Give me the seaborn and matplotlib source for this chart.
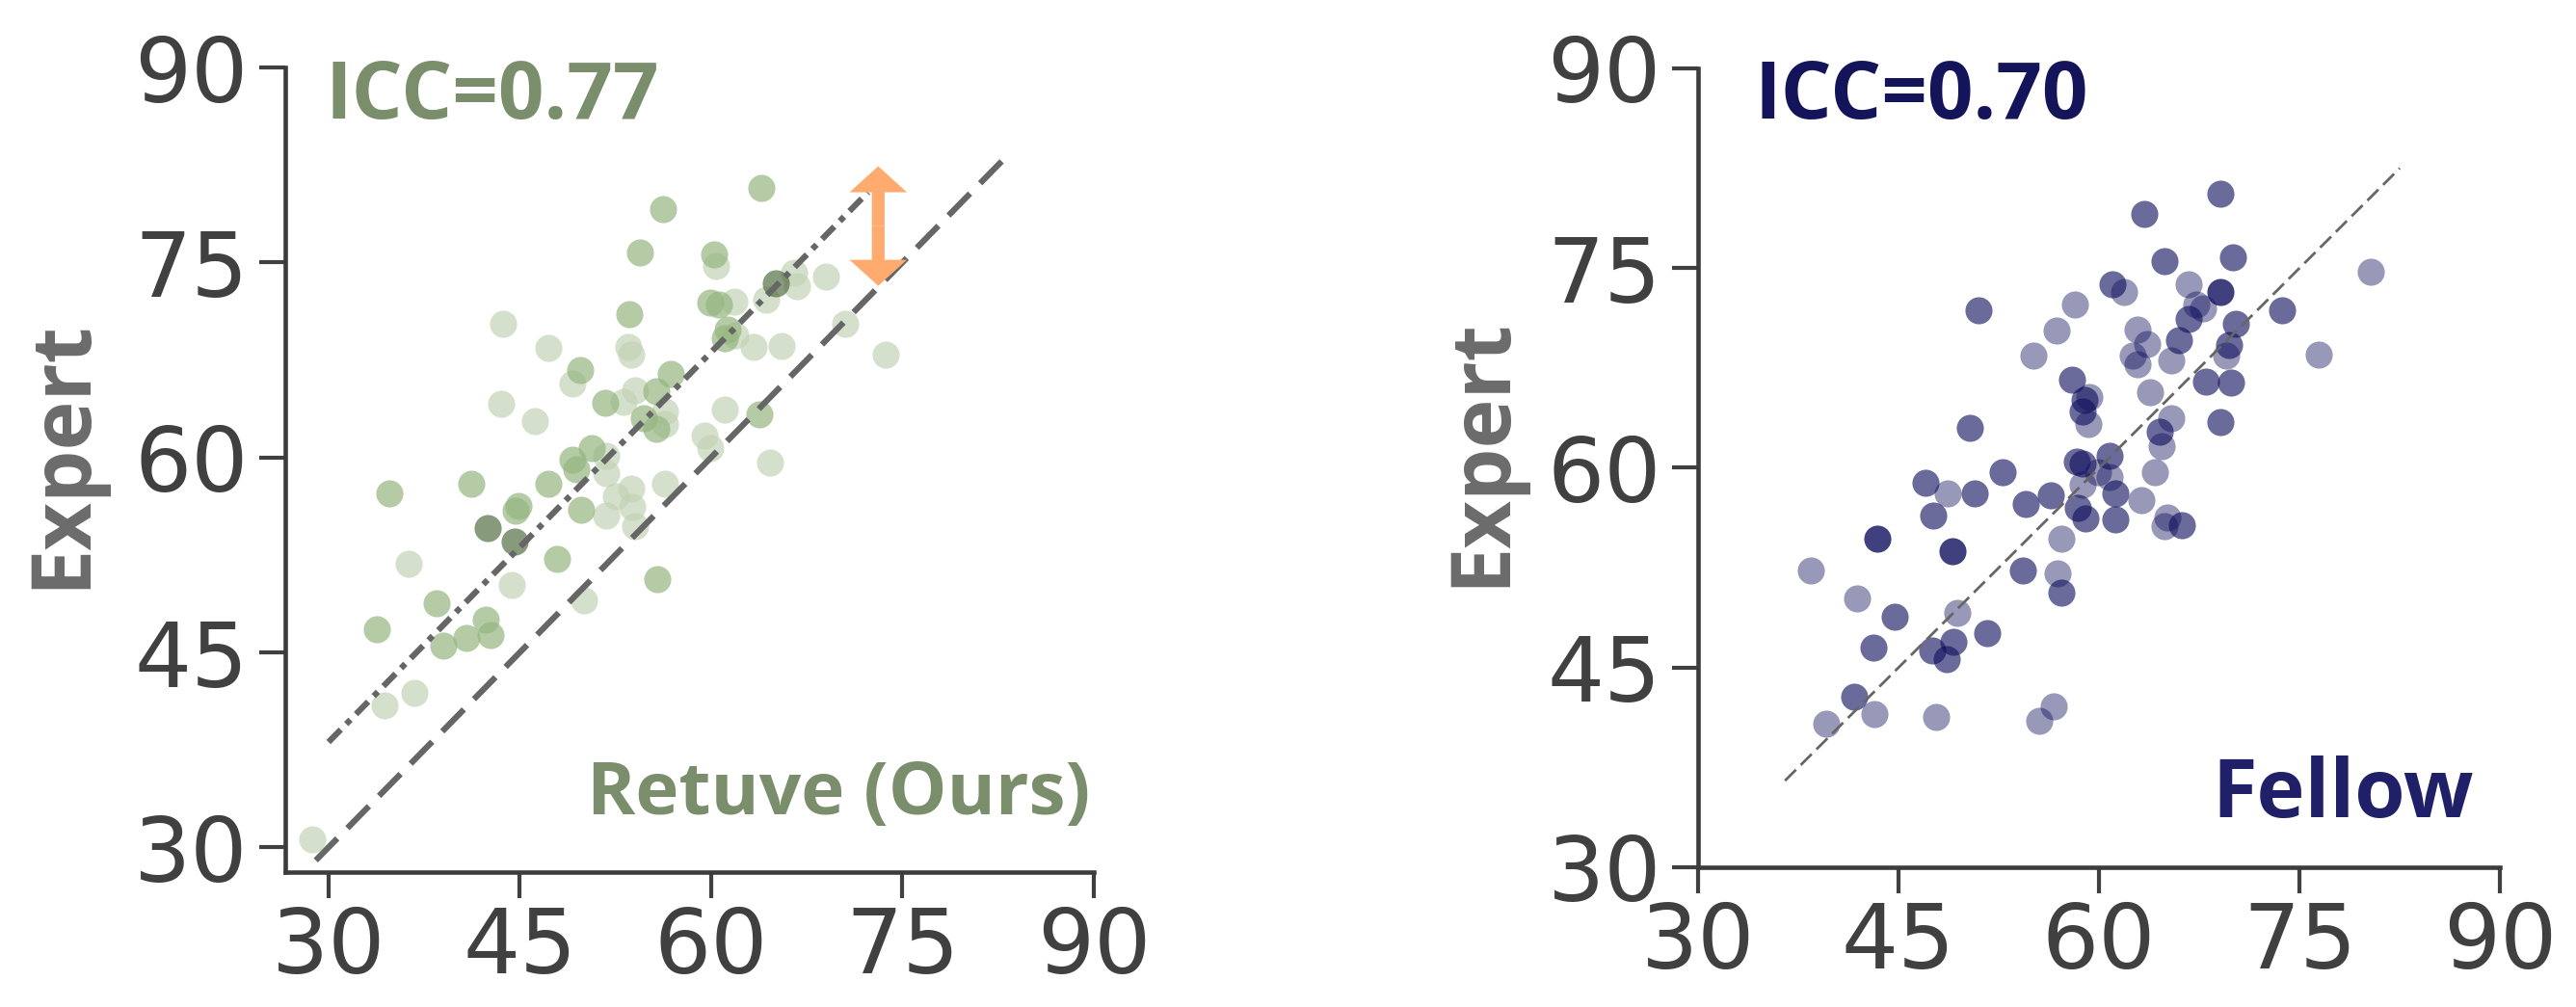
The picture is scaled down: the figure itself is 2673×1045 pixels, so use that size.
import numpy as np
import pandas as pd
import matplotlib
matplotlib.use("Agg")
import matplotlib.pyplot as plt
import seaborn as sns

# ---------------- data ----------------
retuve_x = [63.9, 56.2, 54.4, 60.2, 60.4, 69.0, 65.1, 66.5, 66.7, 64.3,
            59.9, 60.6, 61.8, 53.6, 43.7, 61.3, 61.1, 61.9, 63.3, 65.5,
            70.5, 73.7, 47.2, 53.5, 53.7, 49.7, 49.1, 56.8, 51.7, 54.0,
            53.1, 55.7, 56.4, 56.4, 54.7, 55.7, 43.5, 46.2, 61.1, 63.8,
            59.5, 59.9, 64.6, 50.6, 51.8, 49.1, 49.4, 51.8, 47.2, 41.2,
            34.8, 44.9, 44.7, 49.8, 52.5, 53.7, 53.8, 51.8, 56.4, 54.0,
            42.5, 44.6, 36.3, 47.9, 55.8, 44.4, 50.0, 38.5, 42.3, 42.7,
            33.8, 40.8, 39.0, 36.7, 34.4, 28.7]
retuve_y = [80.7, 79.1, 75.8, 75.6, 74.7, 73.9, 73.4, 74.2, 73.2, 72.1,
            71.9, 71.8, 72.0, 71.0, 70.3, 69.8, 69.2, 69.4, 68.5, 68.6,
            70.3, 67.9, 68.4, 68.5, 67.9, 66.7, 65.7, 66.4, 64.2, 65.2,
            64.3, 65.1, 63.5, 62.6, 63.0, 62.2, 64.1, 62.8, 63.7, 63.3,
            61.7, 60.7, 59.6, 60.7, 60.1, 59.8, 59.1, 58.8, 58.0, 58.0,
            57.2, 56.3, 55.9, 56.0, 57.0, 57.6, 56.2, 55.5, 58.0, 54.7,
            54.6, 53.5, 51.8, 52.2, 50.6, 50.2, 49.0, 48.8, 47.5, 46.3,
            46.8, 46.1, 45.5, 41.9, 40.9, 30.6]
retuve_shade = ["M", "M", "M", "M", "L", "L", "D", "L", "L", "L",
                "M", "M", "L", "M", "L", "M", "M", "L", "L", "L",
                "L", "L", "L", "L", "L", "M", "L", "M", "M", "L",
                "L", "M", "L", "L", "M", "M", "L", "L", "L", "M",
                "L", "L", "L", "M", "L", "M", "M", "L", "M", "M",
                "M", "M", "M", "M", "L", "L", "L", "L", "L", "L",
                "D", "D", "L", "M", "M", "L", "L", "M", "M", "M",
                "M", "M", "M", "L", "L", "L"]

fellow_x = [69.1, 63.4, 64.9, 70.0, 80.3, 61.0, 61.9, 66.7, 69.1, 67.8,
            67.3, 58.2, 51.0, 73.7, 66.7, 70.2, 56.8, 62.9, 63.6, 66.0,
            69.7, 69.5, 55.1, 62.5, 62.9, 65.4, 76.4, 58.0, 68.0, 69.9,
            59.3, 58.9, 58.8, 63.8, 59.2, 50.3, 69.1, 65.4, 64.5, 64.7,
            58.3, 58.8, 60.8, 64.2, 59.9, 60.8, 52.8, 47.0, 48.7, 50.7,
            58.8, 61.2, 54.5, 56.4, 63.2, 58.4, 59.0, 61.2, 65.1, 66.2,
            64.9, 47.6, 57.2, 43.4, 49.0, 54.3, 56.9, 57.2, 38.4, 41.9,
            44.7, 49.4, 43.1, 51.6, 49.1, 47.5, 48.6, 41.7, 43.2, 47.8,
            56.6, 55.5, 39.6]
fellow_y = [80.6, 79.1, 75.5, 75.8, 74.7, 73.8, 73.2, 73.8, 73.2, 72.0,
            72.3, 72.3, 71.8, 71.8, 71.2, 70.8, 70.3, 70.4, 69.3, 69.6,
            69.2, 68.4, 68.4, 68.4, 67.8, 68.1, 68.5, 66.6, 66.5, 66.4,
            65.3, 65.1, 64.2, 65.7, 63.3, 63.0, 63.4, 63.7, 62.7, 61.6,
            60.5, 60.3, 60.9, 59.7, 59.7, 59.3, 59.7, 58.9, 58.1, 58.1,
            58.7, 58.1, 57.3, 57.9, 57.6, 57.0, 56.2, 56.1, 56.3, 55.7,
            55.6, 56.4, 54.7, 54.7, 53.7, 52.3, 52.1, 50.6, 52.3, 50.2,
            48.8, 49.1, 46.5, 47.6, 46.9, 46.3, 45.6, 42.8, 41.5, 41.3,
            42.1, 41.0, 40.8]
fellow_shade = ["M", "M", "M", "M", "L", "M", "L", "L", "D", "L",
                "L", "L", "M", "M", "M", "M", "L", "L", "L", "M",
                "M", "L", "L", "L", "L", "L", "L", "M", "M", "M",
                "L", "M", "M", "L", "L", "M", "M", "L", "M", "L",
                "M", "M", "M", "L", "L", "L", "M", "M", "L", "M",
                "L", "M", "M", "M", "L", "M", "M", "M", "L", "M",
                "L", "M", "L", "D", "D", "M", "L", "M", "L", "L",
                "M", "L", "M", "M", "M", "M", "M", "M", "L", "L",
                "L", "L", "L"]

ticks = [30, 45, 60, 75, 90]
icc_labels = ["ICC=0.77", "ICC=0.70"]
panel_labels = ["Retuve (Ours)", "Fellow"]

identity_left = [29.0, 83.0]      # y = x reference line (left)
bias_left = 8.1                   # offset line y = x + bias
bias_line_x = [30.0, 72.3]
identity_right = [36.5, 82.5]
arrow_x, arrow_y0, arrow_y1 = 73.1, 73.2, 82.4

df_r = pd.DataFrame({"Model": retuve_x, "Expert": retuve_y, "shade": retuve_shade})
df_f = pd.DataFrame({"Model": fellow_x, "Expert": fellow_y, "shade": fellow_shade})

# ---------------- style ----------------
sns.set_style("ticks")
plt.rcParams["font.family"] = ["DejaVu Sans"]
GREEN_TXT = "#7a8e6c"
NAVY_TXT = "#14145a"
NAVY_TXT2 = "#1f2068"
TICK_C = "#404040"
LINE_C = "#666666"

green_colors = {"L": ("#c3d3b5", 0.7), "M": ("#95b680", 0.7), "D": ("#546f45", 0.7)}
navy_colors = {"L": ("#10105e", 0.43), "M": ("#10105e", 0.62), "D": ("#10105e", 0.80)}

fig = plt.figure(figsize=(26.73, 10.45), dpi=100)
ax1 = fig.add_axes([0.1107, 0.1340, 0.3139, 0.7990])
ax2 = fig.add_axes([0.6592, 0.1388, 0.3113, 0.7933])

def scatter(ax, df, cmap):
    for lvl in ["L", "M", "D"]:
        sub = df[df["shade"] == lvl]
        col, a = cmap[lvl]
        sns.scatterplot(data=sub, x="Model", y="Expert", color=col, alpha=a,
                        s=410, linewidth=0, ax=ax, zorder=2)

scatter(ax1, df_r, green_colors)
scatter(ax2, df_f, navy_colors)

# reference lines
ax1.plot(identity_left, identity_left, color=LINE_C, lw=4.5,
         dashes=(5.1, 2.4), zorder=3)
ax1.plot(bias_line_x, [v + bias_left for v in bias_line_x], color=LINE_C, lw=4.5,
         dashes=(2.9, 1.3, 1.0, 1.3), zorder=3)
ax2.plot(identity_right, identity_right, color=LINE_C, lw=2.0,
         dashes=(5.8, 2.5), zorder=3)

# bias arrow
mid = (arrow_y0 + arrow_y1) / 2
for d in (arrow_y1 - mid, arrow_y0 - mid):
    ax1.arrow(arrow_x, mid, 0, d, width=1.0, head_width=4.5, head_length=2.0,
              length_includes_head=True, color="#ffaa6e", lw=0, zorder=4)

# axes formatting
ax1.set_xlim(26.6, 90)
ax1.set_ylim(28.1, 90)
ax2.set_xlim(30, 90)
ax2.set_ylim(30, 90)

for ax in (ax1, ax2):
    ax.set_xticks(ticks)
    ax.set_yticks(ticks)
    ax.set_xticklabels([str(t) for t in ticks])
    ax.set_yticklabels([str(t) for t in ticks])
    ax.tick_params(axis="both", labelsize=67, colors=TICK_C, length=19.5, width=3)
    ax.tick_params(axis="y", pad=8)
    ax.tick_params(axis="x", pad=5)
    for sp in ("left", "bottom"):
        ax.spines[sp].set_linewidth(3.3)
        ax.spines[sp].set_color("#3c3c3c")
    sns.despine(ax=ax)
    ax.set_xlabel("")
    ax.set_ylabel("Expert", fontsize=62, fontweight="bold", color="#6b6b6b",
                  family=["Open Sans", "DejaVu Sans"])

ax1.yaxis.set_label_coords(-0.224, 0.52)
ax2.yaxis.set_label_coords(-0.2175, 0.52)

txt_font = ["Open Sans", "DejaVu Sans"]
ax1.text(0.050, 0.9365, icc_labels[0], transform=ax1.transAxes, fontsize=60,
         fontweight="bold", color=GREEN_TXT, ha="left", va="baseline", family=txt_font)
ax2.text(0.0697, 0.9375, icc_labels[1], transform=ax2.transAxes, fontsize=60,
         fontweight="bold", color=NAVY_TXT, ha="left", va="baseline", family=txt_font)
ax1.text(0.995, 0.072, panel_labels[0], transform=ax1.transAxes, fontsize=55,
         fontweight="bold", color=GREEN_TXT, ha="right", va="baseline", family=txt_font)
ax2.text(0.9675, 0.0625, panel_labels[1], transform=ax2.transAxes, fontsize=61,
         fontweight="bold", color=NAVY_TXT2, ha="right", va="baseline", family=txt_font)

fig.savefig("out.png", dpi=100, facecolor="white")
